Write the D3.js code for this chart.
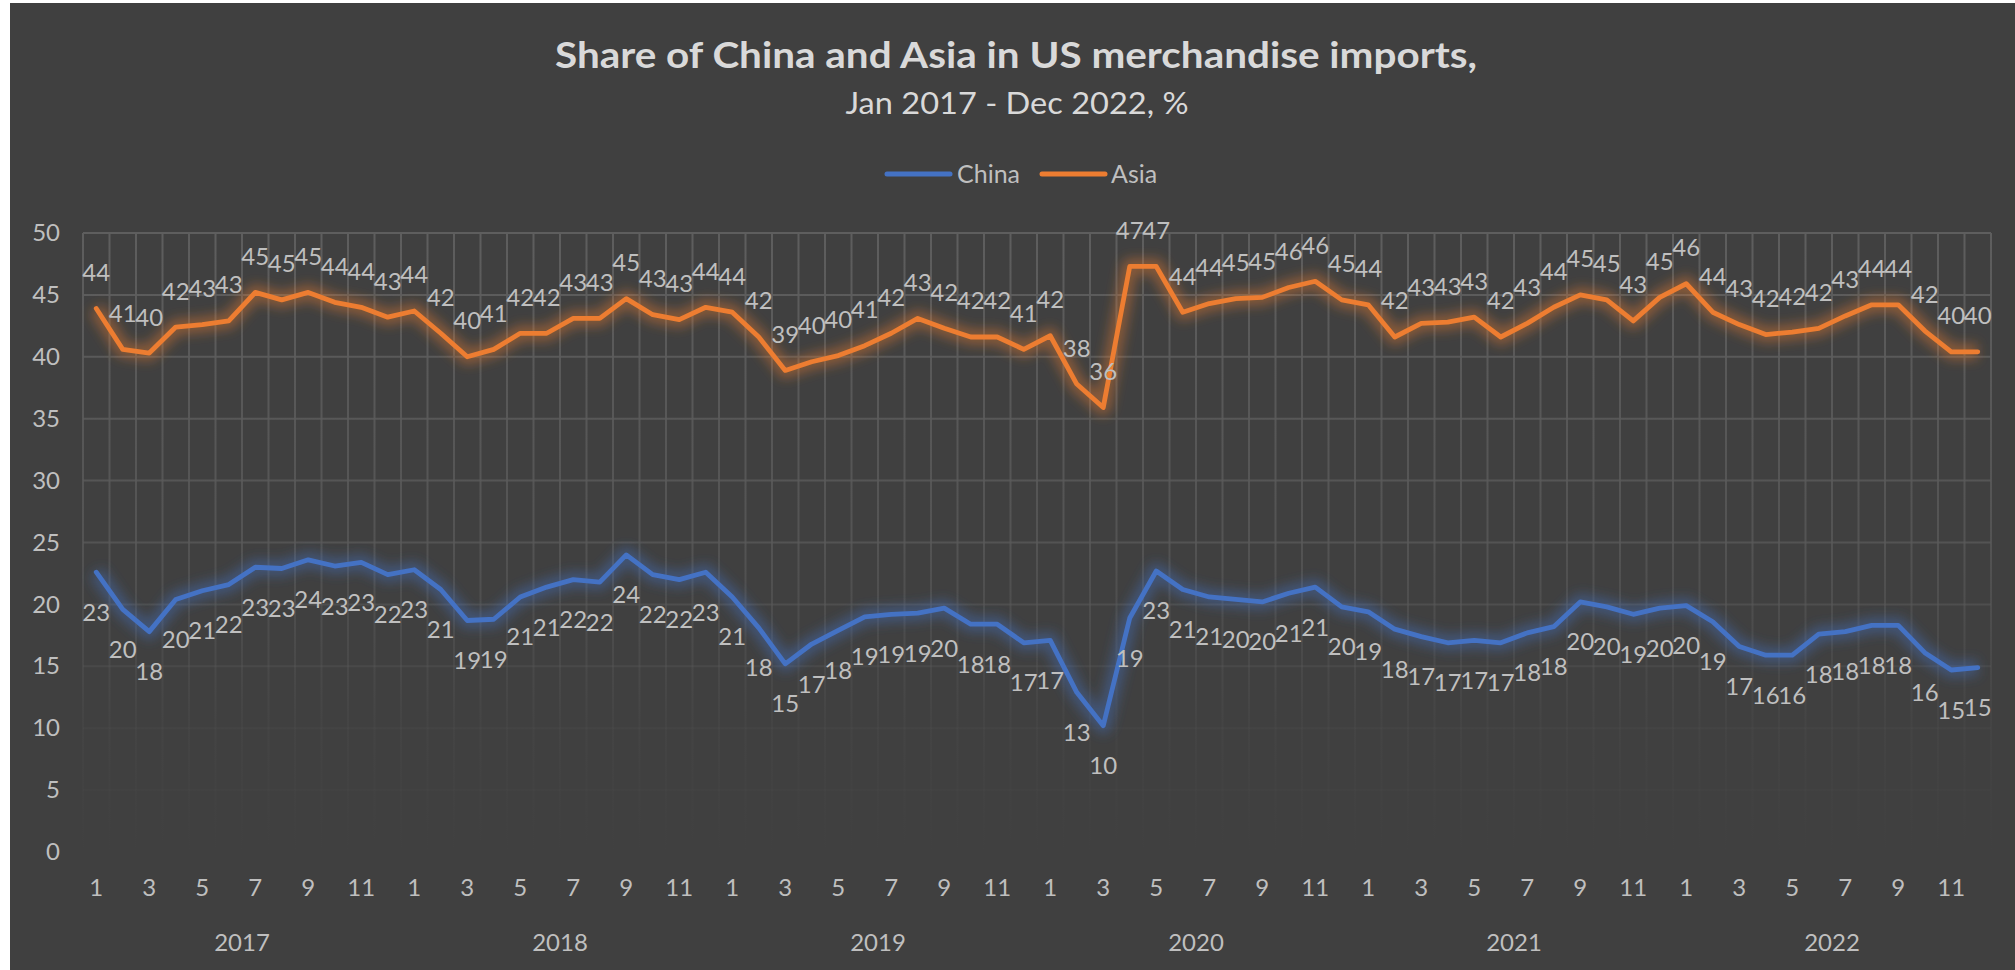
<!DOCTYPE html>
<html>
<head>
<meta charset="utf-8">
<script src="https://cdn.jsdelivr.net/npm/d3@7/dist/d3.min.js"></script>
<style>
  html, body { margin: 0; padding: 0; background: #ffffff; overflow: hidden; }
  svg { display: block; }
  text { font-family: "Lato", "Open Sans", sans-serif; }
</style>
</head>
<body>
<svg id="chart" width="2015" height="970"></svg>
<script>
// ---------------- DATA ----------------
const years = [2017, 2018, 2019, 2020, 2021, 2022];
const months = [1, 2, 3, 4, 5, 6, 7, 8, 9, 10, 11, 12];
const shownMonths = [1, 3, 5, 7, 9, 11];
const yTicks = [0, 5, 10, 15, 20, 25, 30, 35, 40, 45, 50];
const seriesNames = ["China", "Asia"];

const china = [
  22.6, 19.6, 17.8, 20.4, 21.1, 21.6, 23.0, 22.9, 23.6, 23.1, 23.4, 22.4,
  22.8, 21.2, 18.7, 18.8, 20.6, 21.4, 22.0, 21.8, 24.0, 22.4, 22.0, 22.6,
  20.6, 18.1, 15.2, 16.8, 17.9, 19.0, 19.2, 19.3, 19.7, 18.4, 18.4, 16.9,
  17.1, 12.9, 10.2, 18.9, 22.7, 21.2, 20.6, 20.4, 20.2, 20.9, 21.4, 19.8,
  19.4, 18.0, 17.4, 16.9, 17.1, 16.9, 17.7, 18.2, 20.2, 19.8, 19.2, 19.7,
  19.9, 18.6, 16.6, 15.9, 15.9, 17.6, 17.8, 18.3, 18.3, 16.1, 14.7, 14.9
];
const asia = [
  43.9, 40.6, 40.3, 42.4, 42.6, 42.9, 45.2, 44.6, 45.2, 44.4, 44.0, 43.2,
  43.7, 41.9, 40.0, 40.6, 41.9, 41.9, 43.1, 43.1, 44.7, 43.4, 43.0, 44.0,
  43.6, 41.6, 38.9, 39.6, 40.1, 40.9, 41.9, 43.1, 42.3, 41.6, 41.6, 40.6,
  41.7, 37.8, 35.9, 47.3, 47.3, 43.6, 44.3, 44.7, 44.8, 45.6, 46.1, 44.6,
  44.2, 41.6, 42.7, 42.8, 43.2, 41.6, 42.7, 44.0, 45.0, 44.6, 42.9, 44.8,
  45.9, 43.6, 42.6, 41.8, 42.0, 42.3, 43.3, 44.2, 44.2, 42.1, 40.4, 40.4
];

// ---------------- SETUP ----------------
const categories = [];
years.forEach(y => months.forEach(m => categories.push({ year: y, month: m })));
const idx = d3.range(categories.length);

const W = 2015, H = 970;
const plot = { left: 83, right: 1991, top: 233, bottom: 852 };
const colors = { China: "#4472c4", Asia: "#ed7d31" };
const bg = "#404040";
const textCol = "#bfbfbf";

const svg = d3.select("#chart");
const defs = svg.append("defs");

const grad = defs.append("linearGradient")
  .attr("id", "gridFade").attr("gradientUnits", "userSpaceOnUse")
  .attr("x1", 0).attr("y1", plot.top).attr("x2", 0).attr("y2", plot.bottom);
grad.append("stop").attr("offset", "0%").attr("stop-color", "#5e5e5e").attr("stop-opacity", 1);
grad.append("stop").attr("offset", "50%").attr("stop-color", "#5a5a5a").attr("stop-opacity", 0.75);
grad.append("stop").attr("offset", "80%").attr("stop-color", "#5a5a5a").attr("stop-opacity", 0.15);
grad.append("stop").attr("offset", "100%").attr("stop-color", "#5a5a5a").attr("stop-opacity", 0);

const glow = defs.append("filter").attr("id", "glow")
  .attr("filterUnits", "userSpaceOnUse")
  .attr("x", 0).attr("y", 0).attr("width", W).attr("height", H);
glow.append("feGaussianBlur").attr("stdDeviation", 6);

// background
svg.append("rect").attr("x", 0).attr("y", 0).attr("width", W).attr("height", H).attr("fill", "#ffffff");
svg.append("rect").attr("x", 10).attr("y", 3).attr("width", W - 10).attr("height", H - 3).attr("fill", bg);

const x = d3.scaleBand().domain(idx).range([plot.left, plot.right]).padding(0);
const bw = x.bandwidth();
const cx = i => x(i) + bw / 2;
const y = d3.scaleLinear().domain([0, 50]).range([plot.bottom, plot.top]);

// ---------------- GRIDLINES ----------------
const grid = svg.append("g");
grid.selectAll("line.h").data(yTicks).join("line")
  .attr("x1", plot.left).attr("x2", plot.right)
  .attr("y1", d => y(d)).attr("y2", d => y(d))
  .attr("stroke", "url(#gridFade)").attr("stroke-width", 2);
grid.selectAll("line.v").data(d3.range(categories.length + 1)).join("line")
  .attr("x1", d => plot.left + d * bw).attr("x2", d => plot.left + d * bw)
  .attr("y1", plot.top).attr("y2", plot.bottom)
  .attr("stroke", "url(#gridFade)").attr("stroke-width", 2);

// ---------------- AXES ----------------
const yAxis = svg.append("g").attr("transform", `translate(${plot.left},0)`)
  .call(d3.axisLeft(y).tickValues(yTicks).tickSize(0).tickPadding(23));
yAxis.select(".domain").remove();
yAxis.selectAll("text").attr("fill", textCol).style("font-size", "24px").style("font-family", "Lato");

const xAxis = svg.append("g").attr("transform", `translate(0,${plot.bottom})`)
  .call(d3.axisBottom(x)
    .tickValues(idx.filter(i => shownMonths.includes(categories[i].month)))
    .tickFormat(i => categories[i].month)
    .tickSize(0).tickPadding(27));
xAxis.select(".domain").remove();
xAxis.selectAll("text").attr("fill", textCol).style("font-size", "24px").style("font-family", "Lato");

svg.append("g").selectAll("text").data(years).join("text")
  .attr("x", (d, g) => plot.left + (g * 12 + 6) * bw)
  .attr("y", 951)
  .attr("text-anchor", "middle")
  .attr("fill", textCol).style("font-size", "24px")
  .text(d => d);

// ---------------- LINES ----------------
const line = d3.line().x((d, i) => cx(i)).y(d => y(d));
const seriesData = { China: china, Asia: asia };

seriesNames.forEach(name => {
  const g = svg.append("g");
  g.append("path").datum(seriesData[name])
    .attr("d", line).attr("fill", "none")
    .attr("stroke", colors[name]).attr("stroke-width", 16)
    .attr("stroke-opacity", 0.42).attr("stroke-linejoin", "round")
    .attr("filter", "url(#glow)");
  g.append("path").datum(seriesData[name])
    .attr("d", line).attr("fill", "none")
    .attr("stroke", colors[name]).attr("stroke-width", 4.8)
    .attr("stroke-linejoin", "round").attr("stroke-linecap", "round");
});

// ---------------- DATA LABELS ----------------
const fmt = d3.format(".0f");
svg.append("g").selectAll("text").data(asia).join("text")
  .attr("x", (d, i) => cx(i)).attr("y", d => y(d) - 27.5)
  .attr("text-anchor", "middle").attr("fill", textCol).style("font-size", "24px")
  .text(d => fmt(d));
svg.append("g").selectAll("text").data(china).join("text")
  .attr("x", (d, i) => cx(i)).attr("y", d => y(d) + 48.5)
  .attr("text-anchor", "middle").attr("fill", textCol).style("font-size", "24px")
  .text(d => fmt(d));

// ---------------- TITLE ----------------
svg.append("text").attr("x", 1016).attr("y", 68)
  .attr("text-anchor", "middle").attr("fill", "#d9d9d9")
  .style("font-size", "36px").style("font-weight", "bold")
  .attr("textLength", 922).attr("lengthAdjust", "spacingAndGlyphs")
  .text("Share of China and Asia in US merchandise imports,");
svg.append("text").attr("x", 1017).attr("y", 114)
  .attr("text-anchor", "middle").attr("fill", "#d9d9d9")
  .style("font-size", "31px")
  .attr("textLength", 343).attr("lengthAdjust", "spacingAndGlyphs")
  .text("Jan 2017 - Dec 2022, %");

// ---------------- LEGEND ----------------
const legend = [
  { name: "China", x1: 887, x2: 950, tx: 957 },
  { name: "Asia", x1: 1042, x2: 1105, tx: 1111 }
];
const lg = svg.append("g");
lg.selectAll("line").data(legend).join("line")
  .attr("x1", d => d.x1).attr("x2", d => d.x2).attr("y1", 174).attr("y2", 174)
  .attr("stroke", d => colors[d.name]).attr("stroke-width", 5).attr("stroke-linecap", "round");
lg.selectAll("text").data(legend).join("text")
  .attr("x", d => d.tx).attr("y", 183)
  .attr("fill", textCol).style("font-size", "25px")
  .text(d => d.name);
</script>
</body>
</html>
